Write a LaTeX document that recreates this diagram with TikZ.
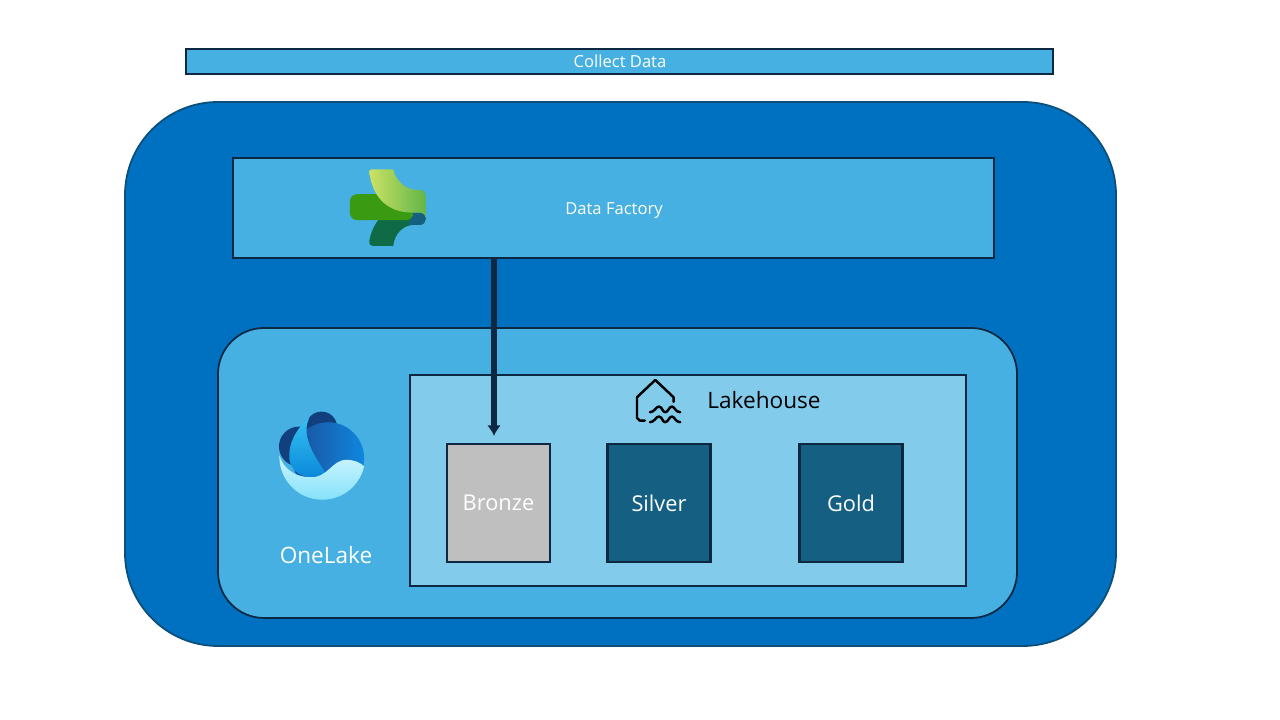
\documentclass[tikz,border=0pt]{standalone}
\usepackage{fontspec}
\setmainfont{Open Sans}
\usetikzlibrary{positioning,arrows.meta}
\definecolor{outerblue}{HTML}{0070C0}
\definecolor{midblue}{HTML}{45B0E1}
\definecolor{paleblue}{HTML}{83CBEB}
\definecolor{tealblue}{HTML}{156082}
\definecolor{edgedark}{HTML}{0E2841}
\definecolor{outeredge}{HTML}{0B4F7A}
\definecolor{leafdark}{HTML}{0F6B45}
\definecolor{leafmid}{HTML}{3A9A12}
\definecolor{leaflight}{HTML}{CBE265}
\definecolor{leafend}{HTML}{62B548}
\definecolor{wavetop}{HTML}{CDF5FF}
\definecolor{wavelow}{HTML}{7FE0F9}
\definecolor{orbdark}{HTML}{123F7E}
\definecolor{orbbright}{HTML}{0F87DE}
\definecolor{orblow}{HTML}{1B4F9C}
\definecolor{creslight}{HTML}{35C2F2}
\definecolor{creslow}{HTML}{0B88DA}
\tikzset{>=latex}
\tikzset{
  band/.style={draw=edgedark,line width=0.6pt,fill=midblue,inner sep=0pt},
  bandtext/.style={text=white,inner sep=0pt,font=\fontsize{4.72}{6}\selectfont},
  layer/.style={draw=edgedark,line width=0.5pt,inner sep=0pt},
  bucket/.style={draw=edgedark,line width=0.6pt,fill=tealblue,text=white,minimum width=1.03cm,minimum height=1.18cm,inner sep=0pt,font=\fontsize{6.2}{7}\selectfont},
  caption/.style={inner sep=0pt,font=\fontsize{6.42}{8}\selectfont},
  zoomed/.style={x=0.003333cm,y=-0.003333cm},
}

\begin{document}
\begin{tikzpicture}
  \useasboundingbox (0,0) rectangle (12.8,7.2);
  % boxes
  \node[band,minimum width=8.67cm,minimum height=0.25cm] (collect) at (6.195,6.585) {};
  \node[bandtext] (collecttext) at (6.2,6.585) {Collect Data};
  \node[layer,draw=outeredge,fill=outerblue,rounded corners=0.93cm,minimum width=9.91cm,minimum height=5.44cm] (fabric) at (6.205,3.46) {};
  \node[band,minimum width=7.61cm,minimum height=1cm] (factory) at (6.135,5.12) {};
  \node[bandtext] (factorytext) at (6.14,5.09) {Data Factory};
  \node[layer,fill=midblue,rounded corners=0.46cm,minimum width=7.99cm,minimum height=2.9cm] (onelake) at (6.175,2.47) {};
  \node[layer,fill=paleblue,minimum width=5.56cm,minimum height=2.11cm] (lakehouse) at (6.88,2.395) {};
  \node[bucket,fill=black!25] (bronze) at (4.985,2.17) {\raisebox{-0.3pt}{Bronze}};
  \node[bucket] (silver) at (6.59,2.17) {\raisebox{-0.3pt}{Silver}};
  \node[bucket] (gold) at (8.51,2.17) {\raisebox{-0.3pt}{Gold}};
  \node[caption,text=white] (onelaketext) at (3.26,1.645) {OneLake};
  \node[caption] (lakehousetext) at (7.64,3.195) {Lakehouse};
  % arrow
  \coordinate (bronzetop) at (4.94,2.84);
  \draw[-{Latex[length=3pt,width=3.9pt]},edgedark,line width=1.7pt] (factory.south -| bronzetop) -- (bronzetop);
  % factory icon
  \begin{scope}[shift={(3.3,5.7)},zoomed]
    \fill[leafdark] (150,205) .. controls (132,225) and (122,250) .. (118,275) .. controls (117,284) and (121,288) .. (128,288) -- (190,288) .. controls (195,250) and (220,225) .. (255,225) -- (270,225) .. controls (282,225) and (288,215) .. (288,206) .. controls (288,195) and (280,188) .. (270,188) -- (200,188) -- cycle;
    \fill[tealblue] (248,188) -- (270,188) .. controls (280,188) and (288,195) .. (288,206) .. controls (288,215) and (282,225) .. (270,225) -- (238,225) -- cycle;
    \fill[leafmid,rounded corners=2pt] (60,133) -- (160,133) -- (250,180) -- (250,211) -- (60,211) -- cycle;
    \shade[shading angle=125,left color=leaflight,right color=leafend] (118,65) .. controls (118,60) and (122,58) .. (126,58) -- (190,58) .. controls (197,90) and (225,120) .. (262,120) -- (270,120) .. controls (282,120) and (288,130) .. (288,140) -- (288,205) .. controls (286,194) and (278,188) .. (268,188) -- (240,188) .. controls (180,186) and (128,150) .. (118,65) -- cycle;
  \end{scope}
  % onelake icon
  \begin{scope}[shift={(2.6,3.25)},zoomed]
    \fill[orbdark] (185,97) circle (47);
    \fill[orbdark] (117,155) circle (60);
    \shade[shading angle=45,left color=orblow,right color=orbbright] (205,190) circle (108);
    \shade[top color=creslight,bottom color=creslow] (148,68) .. controls (105,105) and (85,150) .. (88,190) .. controls (90,225) and (120,245) .. (150,247) -- (200,240) .. controls (170,190) and (130,140) .. (142,85) -- cycle;
    \shade[top color=wavetop,bottom color=wavelow] (58,180) .. controls (70,225) and (110,247) .. (150,247) .. controls (205,250) and (215,195) .. (260,195) .. controls (285,195) and (305,205) .. (313,215) arc[start angle=13,end angle=180,radius=129] -- cycle;
  \end{scope}
  % lakehouse icon
  \begin{scope}[shift={(4.7,3.5)},zoomed,line width=0.7pt,line cap=round,line join=round]
    \draw (526,152) -- (510,152) -- (502,144) -- (502,82) -- (557,30) -- (612,82) -- (612,96);
    \draw (541,127) .. controls (555,127) and (558,110) .. (568,110) .. controls (578,110) and (578,127) .. (587,127) .. controls (596,127) and (598,110) .. (607,110) .. controls (615,110) and (618,127) .. (632,127);
    \draw (541,157) .. controls (555,157) and (558,140) .. (568,140) .. controls (578,140) and (578,157) .. (587,157) .. controls (596,157) and (598,140) .. (607,140) .. controls (615,140) and (618,157) .. (632,157);
  \end{scope}
\end{tikzpicture}
\end{document}
